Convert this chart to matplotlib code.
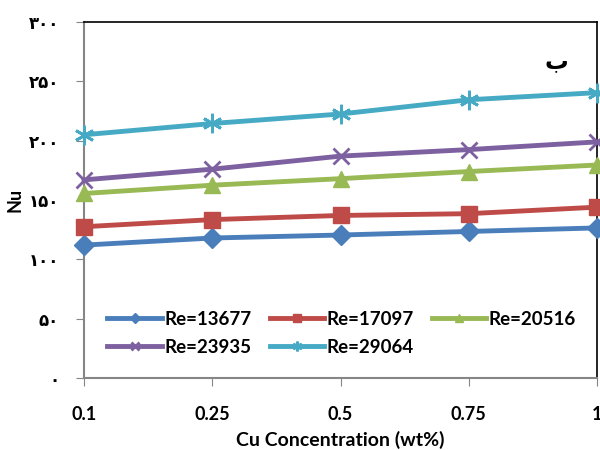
import numpy as np
import matplotlib
matplotlib.use("Agg")
import matplotlib.pyplot as plt

# Nusselt number vs. copper concentration for several Reynolds numbers
conc_labels = ["0.1", "0.25", "0.5", "0.75", "1"]
re_labels = ["Re=13677", "Re=17097", "Re=20516", "Re=23935", "Re=29064"]
nu_13677 = [112, 118, 120.5, 123.5, 126.5]
nu_17097 = [127.5, 133.5, 137, 138.5, 144]
nu_20516 = [155.5, 162.5, 168, 174, 179.5]
nu_23935 = [167, 176, 187, 192.5, 199]
nu_29064 = [205, 214.5, 222.5, 234.5, 240.5]

y_ticks = [0, 50, 100, 150, 200, 250, 300]
y_tick_labels = ["۰", "۵۰", "۱۰۰", "۱۵۰", "۲۰۰", "۲۵۰", "۳۰۰"]

series = [nu_13677, nu_17097, nu_20516, nu_23935, nu_29064]
colors = ["#4A7EBB", "#BE4B48", "#98B954", "#7D60A0", "#46AAC5"]
markers = ["D", "s", "^", "x", (6, 2, 0)]
msizes = [10, 12, 12, 12, 14]

plt.rcParams["font.family"] = ["Lato", "DejaVu Sans"]

fig = plt.figure(figsize=(6, 4.5), dpi=100)
ax = fig.add_axes([0.14, 0.16, 0.855, 0.791])

x = np.arange(len(conc_labels))
for vals, lab, c, m, ms in zip(series, re_labels, colors, markers, msizes):
    ax.plot(x, vals, color=c, lw=3.5, marker=m, markersize=ms,
            markeredgewidth=2 if m in ("x", (6, 2, 0)) else 1,
            markeredgecolor=c, label=lab, clip_on=False, zorder=3)

ax.set_xlim(0, len(conc_labels) - 1)
ax.set_ylim(0, 300)
ax.set_xticks(x)
ax.set_xticklabels(conc_labels, fontsize=13, fontweight="bold")
ax.set_yticks(y_ticks)
ax.set_yticklabels(y_tick_labels, fontsize=12, fontweight="bold",
                   family="DejaVu Sans")
ax.tick_params(axis="y", direction="out", length=6, color="#868686", pad=12)
ax.tick_params(axis="x", direction="out", length=6, color="#868686", pad=14)

for side in ("left", "bottom"):
    ax.spines[side].set_color("#868686")
    ax.spines[side].set_linewidth(1.5)
for side in ("top", "right"):
    ax.spines[side].set_color("black")
    ax.spines[side].set_linewidth(1.2)

ax.set_xlabel("Cu Concentration (wt%)", fontsize=14, fontweight="bold", labelpad=6)
ax.set_ylabel("Nu", fontsize=13, fontweight="bold", labelpad=4)

ax.text(0.92, 0.89, "ب", transform=ax.transAxes, fontsize=17,
        fontweight="bold", family="DejaVu Sans", ha="center", va="center")

# legend laid out row by row: 3 entries on top, 2 below
handles, labels = ax.get_legend_handles_labels()
order = [0, 3, 1, 4, 2]
leg = ax.legend([handles[i] for i in order], [labels[i] for i in order],
                loc="lower left", bbox_to_anchor=(0.02, 0.025), ncol=3,
                frameon=False, fontsize=13.5, markerscale=0.5,
                handlelength=2.9, handletextpad=0.15, columnspacing=0.95,
                labelspacing=0.6, borderpad=0.2)
for t in leg.get_texts():
    t.set_fontweight("bold")

fig.savefig("out.png", dpi=100)
